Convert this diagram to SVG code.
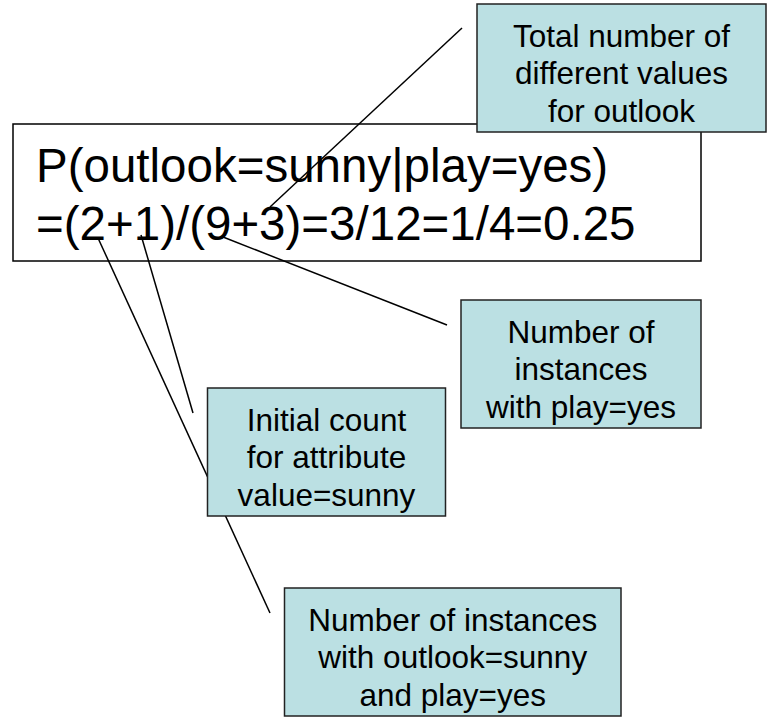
<svg xmlns="http://www.w3.org/2000/svg" width="769" height="721" viewBox="0 0 769 721">
<style>
.main{fill:#fff;stroke:#000;stroke-width:1.5}
.note{fill:#BBE0E3;stroke:#222;stroke-width:1.5}
.t{font-family:"Liberation Sans",Arial,sans-serif;fill:#000}
.big{font-size:47.5px}
.lbl{font-size:31.5px;text-anchor:middle}
.c{stroke:#000;stroke-width:1.5;fill:none}
</style>
<rect width="769" height="721" fill="#fff"/>
<g id="formula">
<rect class="main" x="13" y="124" width="688" height="137"/>
<text class="t big" x="36" y="182">P(outlook=sunny|play=yes)</text>
<text class="t big" x="36" y="240">=(2+1)/(9+3)=3/12=1/4=0.25</text>
</g>
<g id="connectors">
<line class="c" x1="462" y1="28" x2="270" y2="207"/>
<line class="c" x1="223" y1="237" x2="447" y2="325"/>
<line class="c" x1="141" y1="235" x2="193" y2="413"/>
<line class="c" x1="98" y1="238" x2="270" y2="613"/>
</g>
<g id="total-values">
<rect class="note" x="477" y="4" width="289" height="128"/>
<text class="t lbl" x="621.5" y="46.5">Total number of</text>
<text class="t lbl" x="621.5" y="84">different values</text>
<text class="t lbl" x="621.5" y="121.5">for outlook</text>
</g>
<g id="instances-play-yes">
<rect class="note" x="461" y="300" width="240" height="128"/>
<text class="t lbl" x="581" y="342.5">Number of</text>
<text class="t lbl" x="581" y="380">instances</text>
<text class="t lbl" x="581" y="417.5">with play=yes</text>
</g>
<g id="initial-count">
<rect class="note" x="207.5" y="388" width="238" height="128"/>
<text class="t lbl" x="326.5" y="430.5">Initial count</text>
<text class="t lbl" x="326.5" y="468">for attribute</text>
<text class="t lbl" x="326.5" y="505.5">value=sunny</text>
</g>
<g id="instances-sunny-yes">
<rect class="note" x="284.5" y="588" width="336.5" height="128"/>
<text class="t lbl" x="452.75" y="630.5">Number of instances</text>
<text class="t lbl" x="452.75" y="668">with outlook=sunny</text>
<text class="t lbl" x="452.75" y="705.5">and play=yes</text>
</g>
</svg>
